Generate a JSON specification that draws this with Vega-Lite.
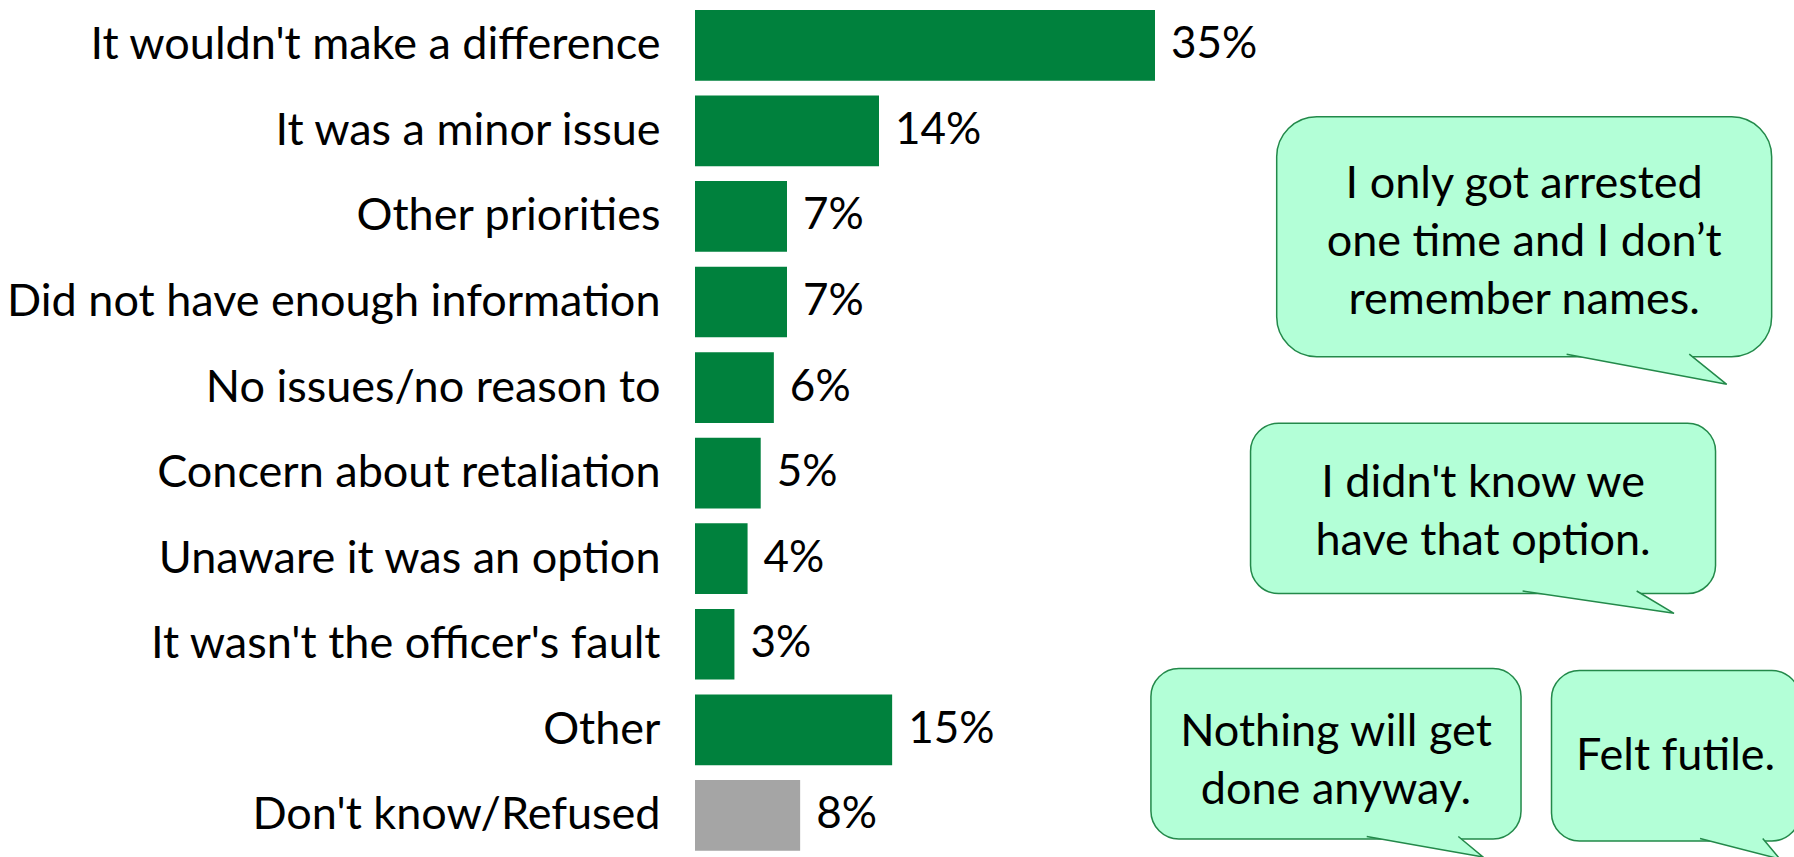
{
  "$schema": "https://vega.github.io/schema/vega-lite/v6.json",
  "autosize": "none",
  "width": 1099,
  "height": 857,
  "padding": {"left": 695, "top": 0, "right": 0, "bottom": 0},
  "background": "white",
  "config": {"view": {"stroke": null}, "font": "Lato"},
  "datasets": {
    "bars": [
      {"reason": "It wouldn't make a difference", "pct": 0.35, "kind": "main"},
      {"reason": "It was a minor issue", "pct": 0.14, "kind": "main"},
      {"reason": "Other priorities", "pct": 0.07, "kind": "main"},
      {"reason": "Did not have enough information", "pct": 0.07, "kind": "main"},
      {"reason": "No issues/no reason to", "pct": 0.06, "kind": "main"},
      {"reason": "Concern about retaliation", "pct": 0.05, "kind": "main"},
      {"reason": "Unaware it was an option", "pct": 0.04, "kind": "main"},
      {"reason": "It wasn't the officer's fault", "pct": 0.03, "kind": "main"},
      {"reason": "Other", "pct": 0.15, "kind": "main"},
      {"reason": "Don't know/Refused", "pct": 0.08, "kind": "dk"}
    ],
    "bubbles": [
      {"id": 1, "x1": 0.4426, "x2": 0.8192, "y1": 0.834, "y2": 3.639, "tx": 0.6309, "ty": 1.625, "text": "I only got arrested\none time and I don’t\nremember names."},
      {"id": 2, "x1": 0.4227, "x2": 0.7765, "y1": 4.417, "y2": 6.407, "tx": 0.5996, "ty": 5.116, "text": "I didn't know we\nhave that option."},
      {"id": 3, "x1": 0.3469, "x2": 0.6285, "y1": 7.283, "y2": 9.276, "tx": 0.4877, "ty": 8.02, "text": "Nothing will get\ndone anyway."},
      {"id": 4, "x1": 0.6517, "x2": 0.8407, "y1": 7.307, "y2": 9.299, "tx": 0.7461, "ty": 8.306, "text": "Felt futile."}
    ],
    "tails": [
      {"id": 1, "k": 1, "x": 0.6632, "y": 3.609},
      {"id": 1, "k": 2, "x": 0.7850, "y": 3.962},
      {"id": 1, "k": 3, "x": 0.7565, "y": 3.609},
      {"id": 2, "k": 1, "x": 0.6297, "y": 6.377},
      {"id": 2, "k": 2, "x": 0.7449, "y": 6.638},
      {"id": 2, "k": 3, "x": 0.7165, "y": 6.377},
      {"id": 3, "k": 1, "x": 0.5111, "y": 9.246},
      {"id": 3, "k": 2, "x": 0.5996, "y": 9.486},
      {"id": 3, "k": 3, "x": 0.5808, "y": 9.246},
      {"id": 4, "k": 1, "x": 0.7647, "y": 9.269},
      {"id": 4, "k": 2, "x": 0.8255, "y": 9.510},
      {"id": 4, "k": 3, "x": 0.8124, "y": 9.269}
    ]
  },
  "layer": [
    {
      "data": {"name": "bars"},
      "encoding": {
        "y": {
          "field": "reason", "type": "nominal", "sort": null,
          "scale": {"paddingInner": 0.174, "paddingOuter": 0.095, "align": 0.613},
          "axis": {"title": null, "ticks": false, "domain": false, "labelPadding": 35, "labelFontSize": 45, "labelFont": "Lato", "labelColor": "#000000", "labelLimit": 1000}
        },
        "x": {"field": "pct", "type": "quantitative", "scale": {"domain": [0, 0.8362], "nice": false, "zero": true}, "axis": null}
      },
      "layer": [
        {
          "mark": {"type": "bar"},
          "encoding": {
            "color": {"field": "kind", "type": "nominal", "scale": {"domain": ["main", "dk"], "range": ["#00813D", "#A5A5A5"]}, "legend": null}
          }
        },
        {
          "mark": {"type": "text", "align": "left", "baseline": "middle", "dx": 16, "fontSize": 44, "font": "Lato", "color": "#000000"},
          "encoding": {"text": {"field": "pct", "type": "quantitative", "format": ".0%"}}
        }
      ]
    },
    {
      "data": {"name": "bubbles"},
      "layer": [
        {
          "transform": [{"filter": "datum.id == 1"}],
          "mark": {"type": "rect", "cornerRadius": 40, "fill": "#B3FFD7", "stroke": "#23894A", "strokeWidth": 1.5},
          "encoding": {
            "x": {"field": "x1", "type": "quantitative", "scale": {"domain": [0, 0.8362], "nice": false, "zero": true}, "axis": null},
            "x2": {"field": "x2"},
            "y": {"field": "y1", "type": "quantitative", "scale": {"domain": [-0.53, 9.486], "nice": false, "zero": false, "reverse": true}, "axis": null},
            "y2": {"field": "y2"}
          }
        },
        {
          "transform": [{"filter": "datum.id != 1"}],
          "mark": {"type": "rect", "cornerRadius": 28, "fill": "#B3FFD7", "stroke": "#23894A", "strokeWidth": 1.5},
          "encoding": {
            "x": {"field": "x1", "type": "quantitative", "scale": {"domain": [0, 0.8362], "nice": false, "zero": true}, "axis": null},
            "x2": {"field": "x2"},
            "y": {"field": "y1", "type": "quantitative", "scale": {"domain": [-0.53, 9.486], "nice": false, "zero": false, "reverse": true}, "axis": null},
            "y2": {"field": "y2"}
          }
        },
        {
          "data": {"name": "tails"},
          "mark": {"type": "line", "fill": "#B3FFD7", "stroke": "#23894A", "strokeWidth": 1.5, "interpolate": "linear"},
          "encoding": {
            "x": {"field": "x", "type": "quantitative", "scale": {"domain": [0, 0.8362], "nice": false, "zero": true}, "axis": null},
            "y": {"field": "y", "type": "quantitative", "scale": {"domain": [-0.53, 9.486], "nice": false, "zero": false, "reverse": true}, "axis": null},
            "detail": {"field": "id", "type": "nominal"},
            "order": {"field": "k", "type": "quantitative"}
          }
        },
        {
          "mark": {"type": "text", "align": "center", "baseline": "middle", "lineBreak": "\n", "lineHeight": 58, "fontSize": 45, "font": "Lato", "color": "#000000"},
          "encoding": {
            "x": {"field": "tx", "type": "quantitative", "scale": {"domain": [0, 0.8362], "nice": false, "zero": true}, "axis": null},
            "y": {"field": "ty", "type": "quantitative", "scale": {"domain": [-0.53, 9.486], "nice": false, "zero": false, "reverse": true}, "axis": null},
            "text": {"field": "text"}
          }
        }
      ]
    }
  ],
  "resolve": {"scale": {"y": "independent"}}
}
